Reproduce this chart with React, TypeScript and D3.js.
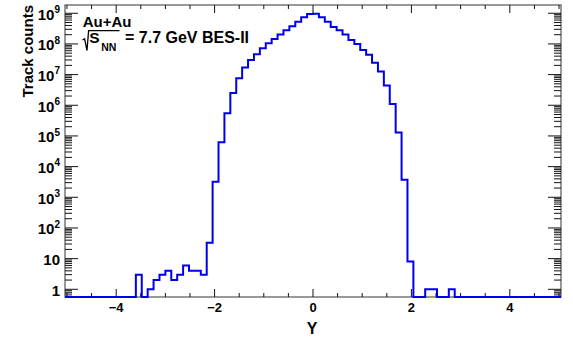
import React from 'react';
import * as d3 from 'd3';

// Histogram bins (low edges, width 0.12) and track counts
const binLowEdges = [
  -3.6, -3.48, -3.36, -3.24, -3.12, -3.0, -2.88, -2.76, -2.64, -2.52, -2.4, -2.28,
  -2.16, -2.04, -1.92, -1.8, -1.68, -1.56, -1.44, -1.32, -1.2, -1.08, -0.96, -0.84,
  -0.72, -0.6, -0.48, -0.36, -0.24, -0.12, 0.0, 0.12, 0.24, 0.36, 0.48, 0.6, 0.72,
  0.84, 0.96, 1.08, 1.2, 1.32, 1.44, 1.56, 1.68, 1.8, 1.92, 2.04, 2.16, 2.28, 2.4,
  2.52, 2.64, 2.76,
];
const trackCounts = [
  3, 0, 1, 2, 3, 4, 2, 3, 6, 4, 4, 3,
  33, 3200, 6.2e4, 5.5e5, 2.5e6, 7.6e6, 1.7e7, 3.0e7, 4.6e7, 7.2e7, 1.05e8, 1.45e8,
  2.05e8, 2.8e8, 3.8e8, 5.3e8, 7.4e8, 9.5e8, 9.6e8, 7.4e8, 5.3e8, 3.6e8, 2.8e8, 2.05e8, 1.35e8,
  1.0e8, 6.3e7, 4.4e7, 2.45e7, 1.26e7, 4.4e6, 1.1e6, 1.3e5, 3.7e3, 8, 0, 0, 1, 1,
  0, 0, 1,
];
const binWidth = 0.12;
const xRange = [-5.04, 5.04];
const yRange = [0.561, 1.86e9];

const xMajorTicks = [-4, -2, 0, 2, 4];
const xTickLabels = ['\u22124', '\u22122', '0', '2', '4'];
const yDecades = [0, 1, 2, 3, 4, 5, 6, 7, 8, 9];

const legendSystem = 'Au+Au';
const legendSqrtBase = 'S';
const legendSqrtSub = 'NN';
const legendEnergy = '= 7.7 GeV BES-II';
const xTitle = 'Y';
const yTitle = 'Track counts';

const W = 573;
const H = 340;
const L = 65;
const R = 561;
const T = 5;
const B = 297;
const FONT = '"Liberation Sans", Arial, Helvetica, sans-serif';

export default function App() {
  const x = d3.scaleLinear().domain(xRange).range([L, R]);
  const y = d3.scaleLog().domain(yRange).range([B, T]);

  const yVal = (v: number) => (v > 0 ? y(v) : B);

  const pts: [number, number][] = [];
  pts.push([x(xRange[0]), B]);
  binLowEdges.forEach((e, i) => pts.push([x(e), yVal(trackCounts[i])]));
  const lastHigh = binLowEdges[binLowEdges.length - 1] + binWidth;
  pts.push([x(lastHigh), B]);
  pts.push([x(xRange[1]), B]);
  const histPath = d3.line().curve(d3.curveStepAfter)(pts) || '';

  const xMinor = d3.range(-5, 5.001, 0.5).filter((v) => !xMajorTicks.includes(Math.round(v * 100) / 100));

  const yMinor: number[] = [];
  for (let d = -1; d <= 9; d++) {
    for (let k = 2; k <= 9; k++) {
      const v = k * Math.pow(10, d);
      if (v >= yRange[0] && v <= yRange[1]) yMinor.push(v);
    }
  }

  const tickColor = '#111';
  const majY = 13;
  const minY = 7;
  const majX = 8;
  const minX = 4;

  return (
    <svg
      width={W}
      height={H}
      style={{ position: 'absolute', left: 0, top: 0, background: '#fff' }}
      fontFamily={FONT}
      fontWeight="bold"
    >
      <rect x={0} y={0} width={W} height={H} fill="#fff" />
      {/* frame */}
      <rect x={L} y={T} width={R - L} height={B - T} fill="none" stroke="#555" strokeWidth={1.2} />

      {/* x ticks bottom & top */}
      {xMajorTicks.map((v) => (
        <g key={'xm' + v} stroke={tickColor} strokeWidth={1}>
          <line x1={x(v)} x2={x(v)} y1={B} y2={B - majX} />
          <line x1={x(v)} x2={x(v)} y1={T} y2={T + majX} />
        </g>
      ))}
      {xMinor.map((v) => (
        <g key={'xn' + v} stroke={tickColor} strokeWidth={1}>
          <line x1={x(v)} x2={x(v)} y1={B} y2={B - minX} />
          <line x1={x(v)} x2={x(v)} y1={T} y2={T + minX} />
        </g>
      ))}

      {/* y ticks left & right */}
      {yDecades.map((d) => (
        <g key={'ym' + d} stroke={tickColor} strokeWidth={1}>
          <line x1={L} x2={L + majY} y1={y(Math.pow(10, d))} y2={y(Math.pow(10, d))} />
          <line x1={R} x2={R - majY} y1={y(Math.pow(10, d))} y2={y(Math.pow(10, d))} />
        </g>
      ))}
      {yMinor.map((v, i) => (
        <g key={'yn' + i} stroke={tickColor} strokeWidth={1}>
          <line x1={L} x2={L + minY} y1={y(v)} y2={y(v)} />
          <line x1={R} x2={R - minY} y1={y(v)} y2={y(v)} />
        </g>
      ))}

      {/* x tick labels */}
      {xMajorTicks.map((v, i) => (
        <text key={'xl' + v} x={x(v)} y={311.7} textAnchor="middle" fontSize={13} fill="#000">
          {xTickLabels[i]}
        </text>
      ))}

      {/* y tick labels */}
      {yDecades.map((d) => {
        const ty = y(Math.pow(10, d)) + 6.4;
        if (d === 0)
          return (
            <text key={'yl' + d} x={60} y={ty} textAnchor="end" fontSize={15} fill="#000">
              1
            </text>
          );
        if (d === 1)
          return (
            <text key={'yl' + d} x={60} y={ty} textAnchor="end" fontSize={15} fill="#000">
              10
            </text>
          );
        return (
          <text key={'yl' + d} x={60} y={ty} textAnchor="end" fontSize={15} fill="#000">
            <tspan>10</tspan>
            <tspan dy={-6.6} fontSize={10}>
              {d}
            </tspan>
          </text>
        );
      })}

      {/* histogram */}
      <path d={histPath} fill="none" stroke="#0000e8" strokeWidth={2} />

      {/* axis titles */}
      <text x={312} y={334} textAnchor="middle" fontSize={16} fill="#000">
        {xTitle}
      </text>
      <text transform="translate(32.5,5) rotate(-90)" textAnchor="end" fontSize={15} fill="#000">
        {yTitle}
      </text>

      {/* legend */}
      <text x={82.7} y={26.5} fontSize={15} fill="#000">
        {legendSystem}
      </text>
      <path d="M82.5,40 L84.6,38.8 L87,50.5 L88.6,30.7 L119.5,30.7" fill="none" stroke="#000" strokeWidth={1.3} />
      <text x={89.3} y={43.3} fontSize={15.5} fill="#000">
        {legendSqrtBase}
      </text>
      <text x={101.2} y={50.5} fontSize={10.5} fill="#000">
        {legendSqrtSub}
      </text>
      <text x={125} y={43.3} fontSize={16} fill="#000">
        {legendEnergy}
      </text>
    </svg>
  );
}
